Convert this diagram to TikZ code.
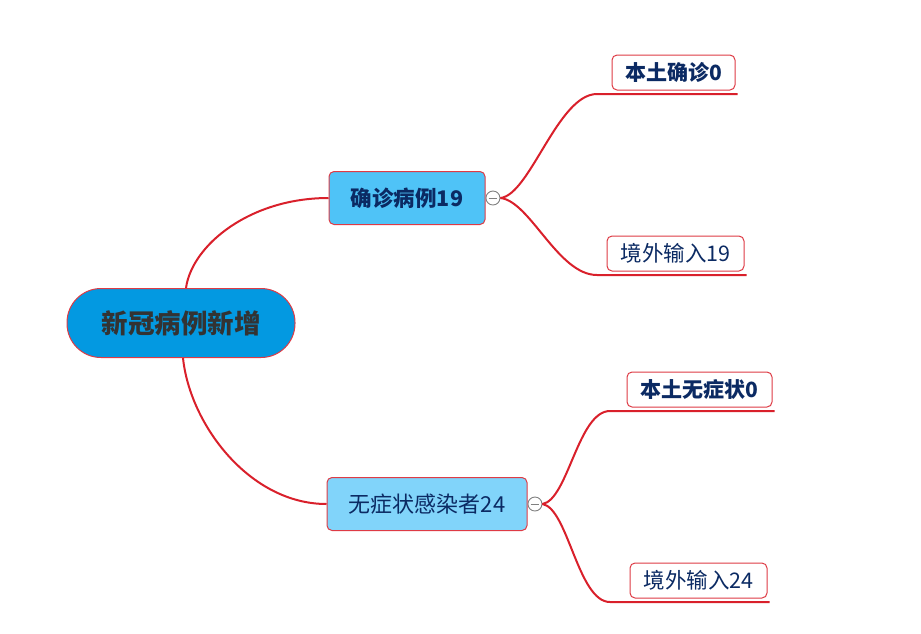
\documentclass[tikz,border=0pt]{standalone}
\usepackage{fontspec}
\setmainfont{Noto Sans CJK SC}
\usepackage{tikz}
\usetikzlibrary{positioning}

\definecolor{linered}{HTML}{D9202B}
\definecolor{boxred}{HTML}{DE3B45}
\definecolor{rootblue}{HTML}{0399E1}
\definecolor{midblue}{HTML}{4FC3F7}
\definecolor{paleblue}{HTML}{81D4FA}
\definecolor{navytext}{HTML}{0B2A63}
\definecolor{roottext}{HTML}{333333}

\tikzset{
	topic/.style={draw=boxred, line width=1pt, rounded corners=5pt,
		minimum height=53pt, text=navytext,
		font=\fontsize{22}{26}\selectfont},
	leaf/.style={draw=boxred, line width=1pt, fill=white, rounded corners=5pt,
		minimum height=35pt, inner xsep=4pt, text=navytext,
		font=\fontsize{21.5}{25}\selectfont},
	toggle/.style={draw=gray, fill=white, line width=0.9pt, circle,
		minimum size=14pt, inner sep=0pt},
	link/.style={draw=linered, line width=2pt},
}

\begin{document}
\begin{tikzpicture}[x=1pt,y=-1pt]
		
		\useasboundingbox (0,0) rectangle (921,633);
		
		% Root
		\node [draw=boxred,
		fill=rootblue,
		line width=1pt,
		rounded corners=34pt,
		minimum width=228pt,
		minimum height=69pt,
		text=roottext,
		font=\bfseries\fontsize{26.5}{30}\selectfont
		]  (root) at (181,323) {新冠病例新增};
		
		% Confirmed cases
		\node [topic,
		fill=midblue,
		minimum width=156pt,
		font=\bfseries\fontsize{21.5}{26}\selectfont
		]  (case) at (407,198) {确诊病例19};
		
		\node [toggle, right=0pt of case] (casetog) {};
		
		% Asymptomatic
		\node [topic,
		fill=paleblue,
		minimum width=200pt
		]  (asym) at (427,504) {无症状感染者24};
		
		\node [toggle, right=0pt of asym] (asymtog) {};
		
		% Leaves
		\node [leaf, minimum width=123pt, font=\bfseries\fontsize{21}{25}\selectfont] (caseloc) at (673.5,72.5) {本土确诊0};
		
		\node [leaf, minimum width=137pt] (caseimp) at (675.5,253.5) {境外输入19};
		
		\node [leaf, minimum width=145pt, font=\bfseries\fontsize{21}{25}\selectfont] (asymloc) at (699.5,389.5) {本土无症状0};
		
		\node [leaf, minimum width=137pt] (asymimp) at (698.5,580.5) {境外输入24};
		
		% Ends of the curves
		\coordinate (ucaseloc) at (597,94);
		\coordinate (ucaseimp) at (597,275);
		\coordinate (uasymloc) at (610,411);
		\coordinate (uasymimp) at (610,602);
		
		\draw[link] ([xshift=5pt]root.north) .. controls (192,245) and (250,198) .. (case.west);
		
		\draw[link] ([xshift=2pt]root.south) .. controls (190,425) and (250,504) .. (asym.west);
		
		\draw[link] (casetog.east) .. controls (530,195) and (558,94) .. (ucaseloc) -- ([xshift=2pt]ucaseloc -| caseloc.east);
		
		\draw[link] (casetog.east) .. controls (530,201) and (558,275) .. (ucaseimp) -- ([xshift=2pt]ucaseimp -| caseimp.east);
		
		\draw[link] (asymtog.east) .. controls (568,500) and (578,411) .. (uasymloc) -- ([xshift=2pt]uasymloc -| asymloc.east);
		
		\draw[link] (asymtog.east) .. controls (568,508) and (578,602) .. (uasymimp) -- ([xshift=2pt]uasymimp -| asymimp.east);
		
		% Toggle marks
		\draw[gray, line width=0.9pt] ([xshift=3pt]casetog.west) -- ([xshift=-3pt]casetog.east);
		
		\draw[gray, line width=0.9pt] ([xshift=3pt]asymtog.west) -- ([xshift=-3pt]asymtog.east);
		
\end{tikzpicture}
\end{document}
